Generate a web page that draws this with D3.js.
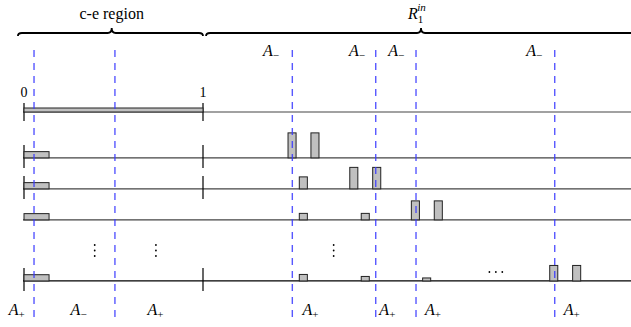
<!DOCTYPE html>
<html>
<head>
<meta charset="utf-8">
<script src="https://cdn.jsdelivr.net/npm/d3@7"></script>
<style>
  body { margin: 0; background: #fff; }
  svg { display: block; }
  text { font-family: 'Liberation Serif', 'Times New Roman', 'DejaVu Serif', serif; }
</style>
</head>
<body>
<svg id="chart" width="631" height="327"></svg>
<script>
// row levels (0 = top line with the [0,1] interval)
const rowLevels = [0, 1.48, 2.48, 3.48, 5.45];
const rowsWithTicks = [0, 1, 2, 4];

// bars: row index, start (units of the [0,1] interval), width, relative height
const barWidth = 0.045;
const ceBars = [
  { row: 0, x: 0, w: 1, h: 0.16 },
  { row: 1, x: 0, w: 0.14, h: 0.25 },
  { row: 2, x: 0, w: 0.14, h: 0.25 },
  { row: 3, x: 0, w: 0.14, h: 0.25 },
  { row: 4, x: 0, w: 0.14, h: 0.25 }
];
const spikeBars = [
  { row: 1, x: 1.475, h: 1.0 },
  { row: 1, x: 1.603, h: 1.0 },
  { row: 2, x: 1.538, h: 0.48 },
  { row: 2, x: 1.82, h: 0.86 },
  { row: 2, x: 1.948, h: 0.86 },
  { row: 3, x: 1.538, h: 0.26 },
  { row: 3, x: 1.884, h: 0.26 },
  { row: 3, x: 2.164, h: 0.76 },
  { row: 3, x: 2.292, h: 0.76 },
  { row: 4, x: 1.538, h: 0.26 },
  { row: 4, x: 1.884, h: 0.18 },
  { row: 4, x: 2.227, h: 0.12 },
  { row: 4, x: 2.937, h: 0.62 },
  { row: 4, x: 3.065, h: 0.62 }
];

// dashed blue markers
const markers = [0.056, 0.508, 1.499, 1.965, 2.19, 2.965];

// labels
const topLabels = [
  { x: 1.38, sub: "\u2212" },
  { x: 1.86, sub: "\u2212" },
  { x: 2.08, sub: "\u2212" },
  { x: 2.85, sub: "\u2212" }
];
const bottomLabels = [
  { x: -0.04, sub: "+" },
  { x: 0.305, sub: "\u2212" },
  { x: 0.735, sub: "+" },
  { x: 1.6, sub: "+" },
  { x: 2.03, sub: "+" },
  { x: 2.285, sub: "+" },
  { x: 3.06, sub: "+" }
];
const endLabels = ["0", "1"];

// braces
const braces = [
  { x0: -0.034, x1: 1, tip: 0.49 },
  { x0: 1.017, x1: 3.5, tip: 2.218 }
];

const vDots = [0.395, 0.737, 1.73];
const hDots = [2.6, 2.636, 2.672];

const svg = d3.select("#chart");

const x = d3.scaleLinear().domain([0, 1]).range([24, 203]);
const y = d3.scaleLinear().domain([0, 1]).range([112, 143]);
const h = d3.scaleLinear().domain([0, 1]).range([0, 25]);

// horizontal baselines
svg.append("g")
  .selectAll("line")
  .data(rowLevels)
  .enter()
  .append("line")
  .attr("x1", x(0) - 1)
  .attr("x2", 631)
  .attr("y1", d => y(d))
  .attr("y2", d => y(d))
  .attr("stroke", (d, i) => i === 4 ? "#000" : "#444")
  .attr("stroke-width", 1.2);

// ticks at 0 and 1
const tickG = svg.append("g");
rowsWithTicks.forEach(r => {
  [0, 1].forEach(v => {
    tickG.append("line")
      .attr("x1", x(v)).attr("x2", x(v))
      .attr("y1", y(rowLevels[r]) - (r === 0 ? 9 : 13))
      .attr("y2", y(rowLevels[r]) + (r === 0 ? 9 : 10))
      .attr("stroke", "#000")
      .attr("stroke-width", 1.2);
  });
});

// bars
const barG = svg.append("g");
barG.selectAll("rect.ce")
  .data(ceBars)
  .enter()
  .append("rect")
  .attr("class", "ce")
  .attr("x", d => x(d.x))
  .attr("width", d => x(d.x + d.w) - x(d.x))
  .attr("y", d => y(rowLevels[d.row]) - h(d.h))
  .attr("height", d => h(d.h))
  .attr("fill", "#c0c0c0")
  .attr("stroke", "#222")
  .attr("stroke-width", 1);

barG.selectAll("rect.spike")
  .data(spikeBars)
  .enter()
  .append("rect")
  .attr("class", "spike")
  .attr("x", d => x(d.x))
  .attr("width", x(barWidth) - x(0))
  .attr("y", d => y(rowLevels[d.row]) - h(d.h))
  .attr("height", d => h(d.h))
  .attr("fill", "#c0c0c0")
  .attr("stroke", "#222")
  .attr("stroke-width", 1);

// dashed markers
svg.append("g")
  .selectAll("line")
  .data(markers)
  .enter()
  .append("line")
  .attr("x1", d => x(d)).attr("x2", d => x(d))
  .attr("y1", 50).attr("y2", 318)
  .attr("stroke", "#3a3aff")
  .attr("stroke-opacity", 0.85)
  .attr("stroke-width", 1.4)
  .attr("stroke-dasharray", "7,6");

// dots
const dotG = svg.append("g").attr("fill", "#000");
vDots.forEach(v => {
  [245, 250.5, 256].forEach(yy => {
    dotG.append("circle").attr("cx", x(v)).attr("cy", yy).attr("r", 0.9);
  });
});
hDots.forEach(v => {
  dotG.append("circle").attr("cx", x(v)).attr("cy", 272).attr("r", 0.9);
});

// A labels
function aLabel(g, d, baseline) {
  const t = g.append("text")
    .attr("x", x(d.x))
    .attr("y", baseline)
    .attr("text-anchor", "middle")
    .attr("font-size", 16);
  t.append("tspan").attr("font-style", "italic").text("A");
  t.append("tspan").attr("font-size", 11).attr("dy", 3).text(d.sub);
}
const labelG = svg.append("g");
topLabels.forEach(d => aLabel(labelG, d, 56));
bottomLabels.forEach(d => aLabel(labelG, d, 315));

// 0 and 1
svg.append("g")
  .selectAll("text")
  .data(endLabels)
  .enter()
  .append("text")
  .attr("x", (d, i) => x(i))
  .attr("y", 97)
  .attr("text-anchor", "middle")
  .attr("font-size", 14)
  .text(d => d);

// braces
const bY = 33;
const braceG = svg.append("g")
  .attr("fill", "none")
  .attr("stroke", "#000")
  .attr("stroke-width", 1.8);
braces.forEach(b => {
  const x0 = x(b.x0), x1 = x(b.x1), xm = x(b.tip);
  const p = d3.path();
  p.moveTo(x0, bY + 3);
  p.quadraticCurveTo(x0, bY, x0 + 4, bY);
  p.lineTo(xm - 4, bY);
  p.quadraticCurveTo(xm, bY, xm, bY - 5);
  p.quadraticCurveTo(xm, bY, xm + 4, bY);
  p.lineTo(x1 - 4, bY);
  p.quadraticCurveTo(x1, bY, x1, bY + 3);
  braceG.append("path").attr("d", p.toString());
});

svg.append("text")
  .attr("x", x(braces[0].tip))
  .attr("y", 19)
  .attr("text-anchor", "middle")
  .attr("font-size", 16)
  .text("c-e region");

const rt = svg.append("text")
  .attr("x", x(braces[1].tip) - 13)
  .attr("y", 19)
  .attr("font-size", 16);
rt.append("tspan").attr("font-style", "italic").text("R");
rt.append("tspan").attr("font-size", 11).attr("dy", 4).text("1");
rt.append("tspan").attr("font-size", 11).attr("font-style", "italic")
  .attr("dx", -6).attr("dy", -12).text("in");
</script>
</body>
</html>
